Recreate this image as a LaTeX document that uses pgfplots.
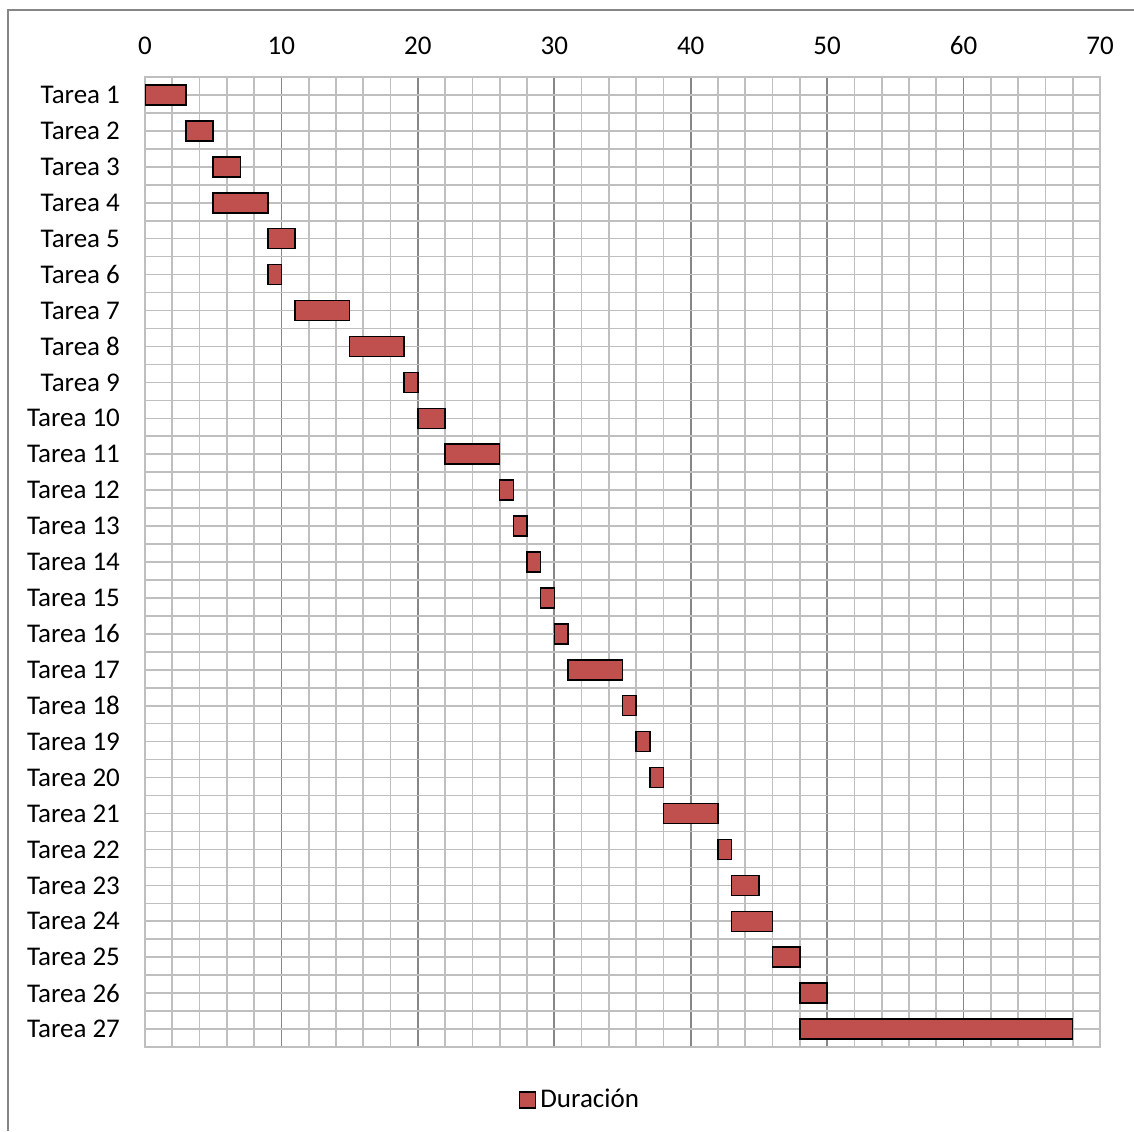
\documentclass[border=0pt]{standalone}
\usepackage{fontspec}
\setmainfont{Carlito}
\usepackage{pgfplots}
\usepackage{pgfplotstable}
\pgfplotsset{compat=1.18}
\definecolor{barred}{HTML}{C0504D}
\definecolor{gridlight}{HTML}{BFBFBF}
\definecolor{griddark}{HTML}{868686}
\pgfplotstableread{
task start dur
1 0 3
2 3 2
3 5 2
4 5 4
5 9 2
6 9 1
7 11 4
8 15 4
9 19 1
10 20 2
11 22 4
12 26 1
13 27 1
14 28 1
15 29 1
16 30 1
17 31 4
18 35 1
19 36 1
20 37 1
21 38 4
22 42 1
23 43 2
24 43 3
25 46 2
26 48 2
27 48 20
}\data
\begin{document}
\begin{tikzpicture}
\begin{axis}[
  scale only axis, width=477.5pt, height=485pt,
  at={(0,0)}, anchor=south west,
  xbar stacked, bar width=10pt,
  y dir=reverse,
  xmin=0, xmax=70, ymin=0.5, ymax=27.5,
  xtick={0,10,...,70}, minor x tick num=4,
  ytick={1,...,27}, minor ytick={0.5,1.5,...,27.5},
  yticklabels={Tarea 1,Tarea 2,Tarea 3,Tarea 4,Tarea 5,Tarea 6,Tarea 7,Tarea 8,Tarea 9,Tarea 10,Tarea 11,Tarea 12,Tarea 13,Tarea 14,Tarea 15,Tarea 16,Tarea 17,Tarea 18,Tarea 19,Tarea 20,Tarea 21,Tarea 22,Tarea 23,Tarea 24,Tarea 25,Tarea 26,Tarea 27},
  xticklabel pos=upper,
  major tick length=0pt, minor tick length=0pt,
  grid=both,
  major x grid style={griddark, line width=0.8pt},
  minor x grid style={gridlight, line width=0.8pt},
  major y grid style={gridlight, line width=0.8pt},
  minor y grid style={gridlight, line width=0.8pt},
  axis line style={gridlight, line width=0.8pt},
  /pgf/number format/assume math mode=true,
  ticklabel style={font=\fontsize{13.5}{16}\selectfont, text=black},
  xticklabel shift=7.5pt,
  yticklabel shift=9pt,
  legend style={at={(0.4565,-0.0546)}, anchor=center, draw=none, fill=none,
    font=\fontsize{13.5}{16}\selectfont, inner sep=0pt},
  legend image code/.code={\draw[#1] (0pt,-4pt) rectangle (8pt,4pt);},
]
\addplot[draw=none, fill=none, forget plot] table[x=start, y=task]{\data};
\addplot[fill=barred, draw=black, line width=0.75pt] table[x=dur, y=task]{\data};
\addlegendentry{Duración}
\end{axis}
\pgfresetboundingbox
\path[use as bounding box] (-72.5pt,-42pt) rectangle (494.5pt,523.5pt);
\draw[griddark, line width=0.75pt] (-68.5pt,-42pt) -- (-68.5pt,518.5pt) -- (494.5pt,518.5pt);
\end{tikzpicture}
\end{document}
